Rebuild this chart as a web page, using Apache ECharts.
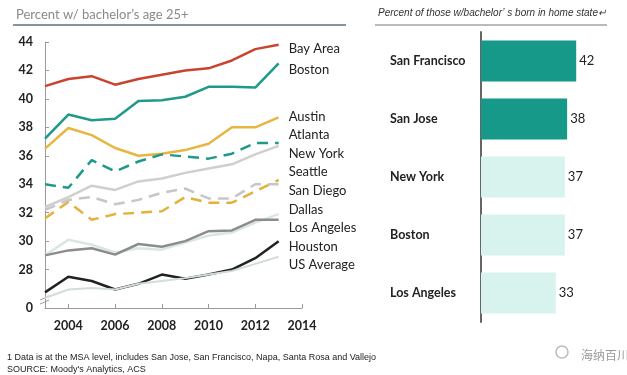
<!DOCTYPE html>
<html>
<head>
<meta charset="utf-8">
<script src="https://cdn.jsdelivr.net/npm/echarts@6.0.0/dist/echarts.min.js"></script>
<style>
  html, body { margin: 0; padding: 0; background: #fff; }
  #main { width: 627px; height: 375px; }
</style>
</head>
<body>
<div id="main"></div>
<script>
// line chart: share with bachelor's degree, age 25+
var years = [2003, 2004, 2005, 2006, 2007, 2008, 2009, 2010, 2011, 2012, 2013];
var yearTicks = [2004, 2006, 2008, 2010, 2012, 2014];
var pctTicks = [25.3, 28, 30, 32, 34, 36, 38, 40, 42, 44];

var bayArea    = [40.9, 41.4, 41.6, 41.0, 41.4, 41.7, 42.0, 42.15, 42.7, 43.5, 43.8];
var boston     = [37.2, 38.9, 38.5, 38.6, 39.85, 39.9, 40.15, 40.85, 40.85, 40.8, 42.5];
var austin     = [36.5, 37.95, 37.45, 36.55, 36.0, 36.15, 36.4, 36.85, 38.0, 38.0, 38.7];
var atlanta    = [34.0, 33.75, 35.7, 34.9, 35.6, 36.1, 35.95, 35.8, 36.15, 36.9, 36.9];
var newYork    = [32.4, 33.1, 33.9, 33.6, 34.2, 34.4, 34.8, 35.1, 35.4, 36.1, 36.7];
var seattle    = [31.6, 32.75, 31.5, 31.9, 32.0, 32.1, 33.1, 32.7, 32.7, 33.5, 34.3];
var sanDiego   = [32.2, 32.9, 33.1, 32.6, 32.9, 33.4, 33.7, 33.0, 33.0, 34.0, 34.0];
var dallas     = [29.0, 30.1, 29.75, 29.2, 29.5, 29.4, 29.9, 30.4, 30.6, 31.3, 31.9];
var losAngeles = [29.0, 29.35, 29.5, 29.05, 29.8, 29.6, 30.0, 30.7, 30.75, 31.5, 31.5];
var houston    = [26.4, 27.5, 27.2, 26.6, 27.0, 27.65, 27.35, 27.65, 28.0, 28.8, 30.0];
var usAverage  = [26.0, 26.6, 26.7, 26.6, 27.0, 27.2, 27.4, 27.65, 27.9, 28.4, 28.9];

// bar chart: born in home state
var cities = ['San Francisco', 'San Jose', 'New York', 'Boston', 'Los Angeles'];
var bornHome = [42, 38, 37, 37, 33];
var highlighted = [true, true, false, false, false];

var FONT = 'Lato, "Open Sans", sans-serif';

function lineSerie(name, values, color, dashed, width, labelShift) {
    return {
        name: name,
        type: 'line',
        xAxisIndex: 0,
        yAxisIndex: 0,
        symbol: 'none',
        silent: true,
        data: values.map(function (v, i) { return [years[i], v]; }),
        lineStyle: {
            color: color,
            width: width || 2.5,
            type: dashed ? [11, 7] : 'solid'
        },
        endLabel: {
            show: true,
            formatter: '{a}',
            color: '#222',
            fontFamily: FONT,
            fontSize: 13,
            lineHeight: 18.6,
            distance: 10,
            offset: [0, labelShift || 0]
        },
        labelLayout: { moveOverlap: 'shiftY' }
    };
}

var series = [
    lineSerie('Bay Area', bayArea, '#c9432f', false, 2.5, 4),
    lineSerie('Boston', boston, '#1f9a89', false, 2.5, 6),
    lineSerie('Austin', austin, '#e8b640', false, 2.5, -1),
    lineSerie('Atlanta', atlanta, '#1f9a89', true, 2.5, -8),
    lineSerie('New York', newYork, '#cfcfcf', false, 2.5, -8),
    lineSerie('Seattle', seattle, '#e3b13c', true, 2.5, -8),
    lineSerie('San Diego', sanDiego, '#c6c6c6', true, 2.5, -8),
    lineSerie('Dallas', dallas, '#d8e6e6', false, 2.5, -8),
    lineSerie('Los Angeles', losAngeles, '#8c8c8c', false, 2.5, -8),
    lineSerie('Houston', houston, '#222222', false, 2.5, -8),
    lineSerie('US Average', usAverage, '#d3dcdc', false, 2, -8)
];

series.push({
    name: 'born',
    type: 'bar',
    xAxisIndex: 1,
    yAxisIndex: 1,
    silent: true,
    barWidth: 41,
    data: bornHome.map(function (v, i) {
        return { value: v, itemStyle: { color: highlighted[i] ? '#17998a' : '#d8f3ee' } };
    }),
    label: {
        show: true,
        position: 'right',
        distance: 3,
        color: '#222',
        fontFamily: FONT,
        fontSize: 13
    }
});

var option = {
    animation: false,
    backgroundColor: '#fff',
    textStyle: { fontFamily: FONT },
    title: [
        { text: "Percent w/ bachelor\u2019s age 25+", left: 11, top: 3,
          textStyle: { color: '#8a8a8a', fontSize: 13, fontWeight: 'normal', fontFamily: FONT } },
        { text: 'Percent of those w/bachelor\u2019 s born in home state\u21b5', left: 373, top: 3,
          textStyle: { color: '#333', fontSize: 10, fontStyle: 'italic', fontWeight: 'normal', fontFamily: '"Liberation Sans", sans-serif' } },
        { text: '1 Data is at the MSA level, includes San Jose, San Francisco, Napa, Santa Rosa and Vallejo', left: 2, top: 348,
          textStyle: { color: '#222', fontSize: 9, fontWeight: 'normal', fontFamily: '"Liberation Sans Narrow", "Liberation Sans", sans-serif' } },
        { text: "SOURCE: Moody's Analytics, ACS", left: 2, top: 360,
          textStyle: { color: '#222', fontSize: 9, fontWeight: 'normal', fontFamily: '"Liberation Sans Narrow", "Liberation Sans", sans-serif' } },
        { text: '海纳百川', left: 576, top: 344,
          textStyle: { color: '#9a9a9a', fontSize: 12, fontWeight: 'normal', fontFamily: '"Noto Sans CJK SC", sans-serif' } }
    ],
    graphic: [
        { type: 'line', shape: { x1: 13, y1: 25, x2: 346, y2: 25 }, style: { stroke: '#5d7282', lineWidth: 1.5 } },
        { type: 'line', shape: { x1: 375, y1: 25, x2: 607, y2: 25 }, style: { stroke: '#777', lineWidth: 1 } },
        { type: 'line', shape: { x1: 40, y1: 300, x2: 49, y2: 296 }, style: { stroke: '#999', lineWidth: 1 } },
        { type: 'line', shape: { x1: 40, y1: 304, x2: 49, y2: 300 }, style: { stroke: '#999', lineWidth: 1 } },
        { type: 'circle', shape: { cx: 562, cy: 352, r: 6 }, style: { fill: 'none', stroke: '#bbb', lineWidth: 1.5 } }
    ],
    grid: [
        { left: 45, top: 42, width: 257, height: 266, containLabel: false },
        { left: 481, top: 32, right: 10, bottom: 53, containLabel: false }
    ],
    xAxis: [
        {
            gridIndex: 0,
            type: 'value',
            min: 2003,
            max: 2014,
            axisLine: { show: true, lineStyle: { color: '#9a9a9a', width: 1 } },
            axisTick: { show: true, inside: true, length: 4, customValues: yearTicks, lineStyle: { color: '#9a9a9a' } },
            axisLabel: {
                customValues: yearTicks,
                color: '#222', fontSize: 12.5, fontWeight: 'bold', margin: 11, fontFamily: FONT,
                formatter: function (v) { return String(v); }
            },
            splitLine: { show: false }
        },
        {
            gridIndex: 1,
            type: 'value',
            min: 0,
            max: 60,
            show: false
        }
    ],
    yAxis: [
        {
            gridIndex: 0,
            type: 'value',
            min: 25.3,
            max: 44,
            axisLine: { show: true, lineStyle: { color: '#9a9a9a', width: 1 } },
            axisTick: { show: true, inside: true, length: 4, customValues: pctTicks, lineStyle: { color: '#9a9a9a' } },
            axisLabel: {
                customValues: pctTicks,
                color: '#222',
                fontSize: 12.5,
                fontWeight: 'bold',
                margin: 12,
                fontFamily: FONT,
                formatter: function (v) { return v < 27 ? '0' : String(Math.round(v)); }
            },
            splitLine: { show: false }
        },
        {
            gridIndex: 1,
            type: 'category',
            inverse: true,
            data: cities,
            axisLine: { show: true, lineStyle: { color: '#666', width: 2 } },
            axisTick: { show: false },
            axisLabel: { align: 'left', margin: 91, color: '#222', fontSize: 12.5, fontWeight: 'bold', fontFamily: FONT }
        }
    ],
    series: series
};

var chart = echarts.init(document.getElementById('main'), null, { renderer: 'canvas' });
chart.setOption(option);
</script>
</body>
</html>
